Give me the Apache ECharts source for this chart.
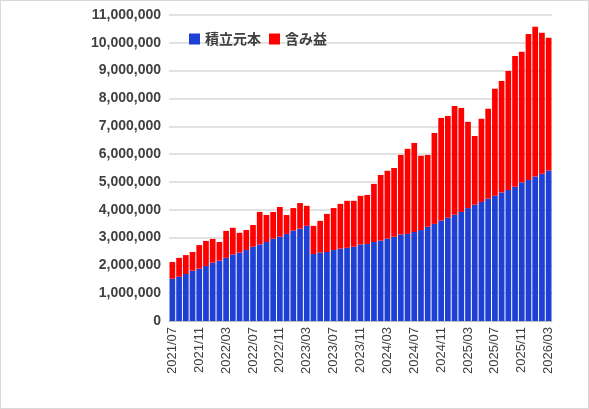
<!DOCTYPE html>
<html><head><meta charset="utf-8">
<script src="https://cdn.jsdelivr.net/npm/echarts@6/dist/echarts.min.js"></script>
<style>html,body{margin:0;padding:0;background:#fff}#c{width:589px;height:409px;box-sizing:border-box;border:1px solid #d9d9d9}</style>
</head><body><div id="c"></div>
<script>
const startYear = 2021, startMonth = 7;
const principal = [1.52,1.59,1.69,1.81,1.88,1.98,2.10,2.17,2.27,2.39,2.46,2.55,2.67,2.75,2.84,2.96,3.03,3.13,3.25,3.32,3.42,2.41,2.46,2.48,2.55,2.60,2.63,2.67,2.75,2.77,2.84,2.89,2.96,3.03,3.11,3.13,3.20,3.27,3.39,3.49,3.61,3.71,3.82,3.92,4.06,4.18,4.28,4.40,4.50,4.62,4.71,4.83,4.98,5.07,5.19,5.29,5.41];
const total = [2.12,2.27,2.37,2.48,2.73,2.88,2.95,2.84,3.24,3.35,3.17,3.27,3.45,3.92,3.81,3.92,4.10,3.81,4.06,4.24,4.14,3.42,3.60,3.85,4.06,4.21,4.32,4.32,4.50,4.53,4.93,5.25,5.40,5.50,5.97,6.19,6.40,5.94,5.97,6.76,7.30,7.37,7.73,7.66,7.16,6.65,7.27,7.63,8.35,8.63,8.99,9.53,9.68,10.32,10.58,10.36,10.18];
const categories = principal.map((_, i) => { const m = startMonth - 1 + i; return (startYear + Math.floor(m/12)) + '/' + String(m%12+1).padStart(2,'0'); });
const principalYen = principal.map(v => Math.round(v*1e6));
const profitYen = total.map((v,i) => Math.round((v - principal[i])*1e6));
const chart = echarts.init(document.getElementById('c'));
chart.setOption({
  animation:false,
  textStyle:{fontFamily:'Noto Sans CJK JP'},
  grid:{left:168,right:36,top:14,bottom:87,containLabel:false},
  legend:{left:183,top:26,itemWidth:11,itemHeight:11,itemGap:8,icon:'rect',
    textStyle:{fontSize:14,fontWeight:'bold',color:'#404040',fontFamily:'Noto Sans CJK JP'},
    data:['積立元本','含み益']},
  xAxis:{type:'category',data:categories,
    axisLine:{lineStyle:{color:'#bfbfbf'}},axisTick:{show:false},
    axisLabel:{interval:3,rotate:90,color:'#404040',fontSize:13,fontFamily:'Liberation Sans',margin:6}},
  yAxis:{type:'value',min:0,max:11000000,interval:1000000,
    axisLabel:{color:'#404040',fontSize:14,fontWeight:'bold',fontFamily:'Liberation Sans',formatter:v=>v.toLocaleString('en-US')},
    splitLine:{lineStyle:{color:'#d9d9d9',width:1.5}},axisLine:{show:false},axisTick:{show:false}},
  series:[
    {name:'積立元本',type:'bar',stack:'a',data:principalYen,itemStyle:{color:'#1F40D4'},barCategoryGap:'15%'},
    {name:'含み益',type:'bar',stack:'a',data:profitYen,itemStyle:{color:'#FF0000'}}
  ]
});
</script></body></html>
